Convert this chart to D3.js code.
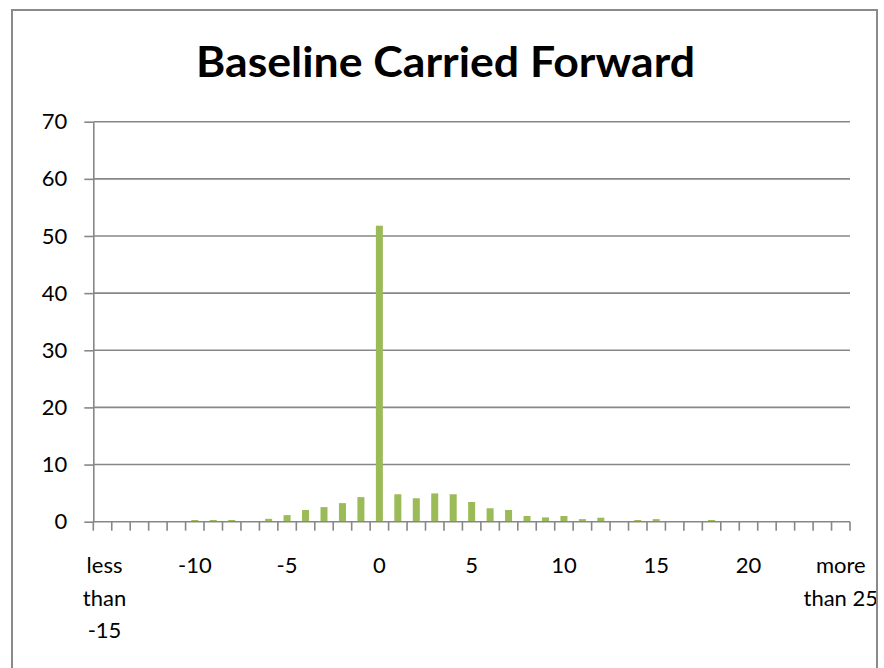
<!DOCTYPE html>
<html>
<head>
<meta charset="utf-8">
<script src="https://cdn.jsdelivr.net/npm/d3@7"></script>
<style>
  html, body { margin: 0; padding: 0; background: #ffffff; }
  svg { display: block; }
  text { font-family: Lato, "Open Sans", "DejaVu Sans", sans-serif; fill: #000; }
</style>
</head>
<body>
<svg id="chart" width="884" height="668"></svg>
<script>
// Difference buckets: "less than -15", -14 … 24, "more than 25"
const categories = ["less than -15"]
  .concat(d3.range(-14, 25).map(String))
  .concat(["more than 25"]);

// Percentage of cases in each bucket
const values = [
  0, 0, 0, 0, 0,            // <-15, -14 .. -11
  0.3, 0.3, 0.3, 0, 0.5,    // -10 .. -6
  1.15, 2.05, 2.55, 3.25, 4.3, // -5 .. -1
  51.8,                     // 0
  4.8, 4.1, 4.95, 4.8, 3.45, // 1 .. 5
  2.35, 2.05, 1.0, 0.75, 1.0, // 6 .. 10
  0.45, 0.7, 0, 0.3, 0.45,  // 11 .. 15
  0, 0, 0.3, 0, 0,          // 16 .. 20
  0, 0, 0, 0, 0             // 21 .. 24, >25
];

// Labelled buckets on the category axis (every fifth)
const tickLabels = ["less than -15", "-10", "-5", "0", "5", "10", "15", "20", "more than 25"];
const yTicks = [0, 10, 20, 30, 40, 50, 60, 70];

const title = "Baseline Carried Forward";

const svg = d3.select("#chart");
const plot = { left: 93.3, right: 850, top: 121.7, bottom: 521.7 };

const gridColor = "#878787";
const barColor = "#9bbb59";
const labelSize = 22;

// clip everything to the chart frame
svg.append("defs").append("clipPath").attr("id", "frame")
  .append("rect").attr("x", 12).attr("y", 10).attr("width", 864).attr("height", 680);

const root = svg.append("g").attr("clip-path", "url(#frame)");

const x = d3.scaleBand()
  .domain(categories)
  .range([plot.left, plot.right])
  .paddingInner(0.62)
  .paddingOuter(0.31);

const xOuter = d3.scaleBand().domain(categories).range([plot.left, plot.right]);

const y = d3.scaleLinear().domain([0, 70]).range([plot.bottom, plot.top]);

// horizontal gridlines
root.append("g")
  .selectAll("line")
  .data(yTicks.filter(d => d > 0))
  .join("line")
  .attr("x1", plot.left).attr("x2", plot.right)
  .attr("y1", d => y(d)).attr("y2", d => y(d))
  .attr("stroke", gridColor).attr("stroke-width", 1.6);

// y axis
const yAxis = d3.axisLeft(y).tickValues(yTicks).tickSize(9).tickPadding(17).tickSizeOuter(0);
const gy = root.append("g").attr("transform", `translate(${plot.left},0)`).call(yAxis);
gy.select(".domain").attr("stroke", gridColor).attr("stroke-width", 1.6);
gy.selectAll(".tick line").attr("stroke", gridColor).attr("stroke-width", 1.6);
gy.selectAll(".tick text")
  .attr("font-family", "Lato, sans-serif")
  .attr("font-size", labelSize)
  .attr("fill", "#000");

// bars
root.append("g")
  .selectAll("rect")
  .data(values.map((v, i) => ({ c: categories[i], v })))
  .join("rect")
  .attr("x", d => x(d.c))
  .attr("width", x.bandwidth())
  .attr("y", d => y(d.v))
  .attr("height", d => y(0) - y(d.v))
  .attr("fill", barColor);

// x axis line and category boundary ticks
const gx = root.append("g");
gx.append("line")
  .attr("x1", plot.left).attr("x2", plot.right)
  .attr("y1", plot.bottom).attr("y2", plot.bottom)
  .attr("stroke", gridColor).attr("stroke-width", 1.6);
const boundaries = categories.map(c => xOuter(c)).concat([plot.right]);
gx.selectAll("line.tk")
  .data(boundaries)
  .join("line")
  .attr("class", "tk")
  .attr("x1", d => d).attr("x2", d => d)
  .attr("y1", plot.bottom).attr("y2", plot.bottom + 9)
  .attr("stroke", gridColor).attr("stroke-width", 1.6);

// category labels, wrapped the way the axis lays them out
const wrapped = {
  "less than -15": ["less", "than", "-15"],
  "more than 25": ["more", "than 25"]
};
const lbl = gx.selectAll("text.cat")
  .data(tickLabels)
  .join("text")
  .attr("class", "cat")
  .attr("text-anchor", "middle")
  .attr("font-size", labelSize)
  .attr("x", d => xOuter(d) + xOuter.bandwidth() / 2 + (d === "less than -15" ? 2 : 0))
  .attr("y", 573);
lbl.each(function(d) {
  const lines = wrapped[d] || [d];
  const t = d3.select(this);
  lines.forEach((ln, k) => {
    t.append("tspan")
      .attr("x", t.attr("x"))
      .attr("dy", k === 0 ? 0 : 32.5)
      .text(ln);
  });
});

// title
root.append("text")
  .attr("x", 445.5)
  .attr("y", 77)
  .attr("text-anchor", "middle")
  .attr("font-weight", "bold")
  .attr("font-size", 42)
  .attr("textLength", 499)
  .attr("lengthAdjust", "spacingAndGlyphs")
  .text(title);

// chart frame
svg.append("rect")
  .attr("x", 12).attr("y", 10)
  .attr("width", 865).attr("height", 700)
  .attr("fill", "none")
  .attr("stroke", "#8a8a8a")
  .attr("stroke-width", 2);
</script>
</body>
</html>
